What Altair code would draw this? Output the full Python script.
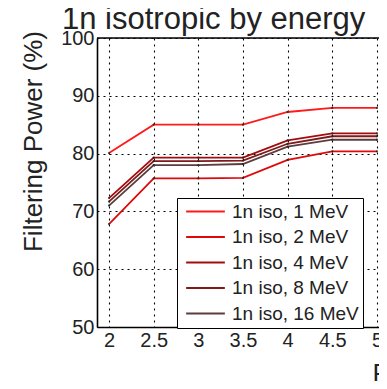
import altair as alt
import pandas as pd

R = [2, 2.5, 3, 3.5, 4, 4.5, 5]
series_names = ["1n iso, 1 MeV", "1n iso, 2 MeV", "1n iso, 4 MeV", "1n iso, 8 MeV", "1n iso, 16 MeV"]
fp_1 = [80.1, 85.0, 85.0, 85.0, 87.2, 87.9, 87.9]
fp_2 = [67.8, 75.7, 75.7, 75.8, 78.9, 80.4, 80.4]
fp_4 = [72.3, 79.3, 79.3, 79.3, 82.3, 83.5, 83.5]
fp_8 = [71.7, 78.7, 78.7, 78.8, 81.7, 83.0, 83.0]
fp_16 = [71.0, 78.0, 78.0, 78.2, 81.2, 82.4, 82.4]
colors = ["#ff1a1a", "#dd0a0a", "#a30c0c", "#7d1a1a", "#5e3c3c"]
x_ticks = [2, 2.5, 3, 3.5, 4, 4.5, 5]
y_ticks = [50, 60, 70, 80, 90, 100]
title_text = ["1n isotropic by energy"]

rows = []
for name, vals in zip(series_names, [fp_1, fp_2, fp_4, fp_8, fp_16]):
    for r, v in zip(R, vals):
        rows.append({"R": r, "FP": v, "series": name})
df = pd.DataFrame(rows)

FONT = "Liberation Sans"

xscale = alt.Scale(domain=[1.8657, 5.0225], nice=False, zero=False)
yscale = alt.Scale(domain=[50, 100], nice=False, zero=False)

x_enc = alt.X("R:Q", scale=xscale,
              axis=alt.Axis(values=x_ticks, labelExpr="'' + datum.value", title="R (m)",
                            grid=True, gridDash=[2, 4], gridColor="#000", gridOpacity=1,
                            gridWidth=1.1,
                            ticks=False, tickSize=0, labelPadding=3,
                            labelFontSize=20, labelFont=FONT, labelColor="#222",
                            domainColor="#000", domainWidth=1.6,
                            titleFont=FONT, titleFontSize=26, titleFontWeight="normal",
                            titleColor="#222", titleAlign="left", titleAnchor="start",
                            titleX=275, titleY=54, titleBaseline="alphabetic"))
y_enc = alt.Y("FP:Q", scale=yscale,
              axis=alt.Axis(values=y_ticks, title="Filtering Power (%)",
                            grid=True, gridDash=[2, 4], gridColor="#000", gridOpacity=1,
                            gridWidth=1.1,
                            ticks=False, tickSize=0, labelPadding=3,
                            labelFontSize=20, labelFont=FONT, labelColor="#222",
                            domainColor="#000", domainWidth=1.6,
                            titleFont=FONT, titleFontSize=26, titleFontWeight="normal",
                            titleColor="#222", titleX=-56, titleY=103,
                            titleBaseline="alphabetic", titleAngle=270))

pad = "\u00a0" * 18
color_enc = alt.Color("series:N", sort=series_names,
                      scale=alt.Scale(domain=series_names, range=colors),
                      legend=alt.Legend(orient="none", legendX=80, legendY=160, title=None,
                                        symbolType="stroke", symbolSize=1500,
                                        symbolStrokeWidth=2, symbolOffset=4,
                                        labelFont=FONT, labelFontSize=19, labelColor="#222",
                                        labelOffset=6, padding=4, rowPadding=5.5,
                                        clipHeight=19,
                                        labelExpr="datum.label + '" + pad + "'",
                                        strokeColor="#000", fillColor="#ffffff",
                                        labelLimit=500))

base = alt.Chart(df)
lines = base.mark_line(strokeWidth=1.8).encode(x=x_enc, y=y_enc, color=color_enc,
                                               order=alt.Order("R:Q"))
points = base.mark_circle(size=5, color="#222", opacity=0.8).encode(x="R:Q", y="FP:Q")
top = alt.Chart(pd.DataFrame({"v": [100]})).mark_rule(color="#000", strokeWidth=1.6).encode(
    y="v:Q")
title = alt.Chart(pd.DataFrame({"t": title_text})).mark_text(
    font=FONT, fontSize=31, color="#222", align="left", baseline="alphabetic"
).encode(text="t:N", x=alt.value(-35), y=alt.value(-9))

chart = alt.layer(top, lines, points, title).properties(
    width=282, height=289,
    autosize=alt.AutoSizeParams(type="none"),
    padding={"left": 89, "top": 30, "right": 0, "bottom": 54},
).configure_view(stroke=None).configure(background="white")

chart.save("out.html", embed_options={"renderer": "svg", "actions": False})
